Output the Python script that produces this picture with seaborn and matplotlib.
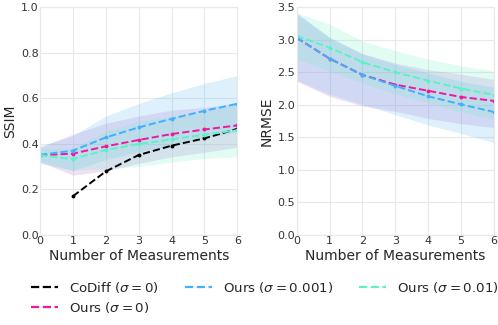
import matplotlib
matplotlib.use("Agg")
import matplotlib.pyplot as plt
from matplotlib.lines import Line2D
import seaborn as sns
import pandas as pd

# measurements on the x axis
n_meas = [0, 1, 2, 3, 4, 5, 6]

# SSIM
ssim_codiff = [None, 0.170, 0.279, 0.351, 0.392, 0.424, 0.466]
ssim_ours0 = [0.350, 0.357, 0.389, 0.417, 0.443, 0.463, 0.481]
ssim_ours0_lo = [0.320, 0.263, 0.281, 0.314, 0.343, 0.363, 0.385]
ssim_ours0_hi = [0.385, 0.443, 0.490, 0.522, 0.548, 0.560, 0.578]
ssim_ours1 = [0.352, 0.370, 0.428, 0.472, 0.510, 0.545, 0.576]
ssim_ours1_lo = [0.316, 0.282, 0.332, 0.365, 0.396, 0.425, 0.452]
ssim_ours1_hi = [0.390, 0.435, 0.522, 0.577, 0.624, 0.665, 0.700]
ssim_ours2 = [0.350, 0.333, 0.373, 0.399, 0.420, 0.440, 0.460]
ssim_ours2_lo = [0.322, 0.285, 0.290, 0.300, 0.320, 0.336, 0.343]
ssim_ours2_hi = [0.380, 0.380, 0.455, 0.498, 0.520, 0.544, 0.577]

# NRMSE
nrmse_ours0 = [3.030, 2.710, 2.460, 2.310, 2.215, 2.120, 2.060]
nrmse_ours0_lo = [2.360, 2.130, 1.980, 1.900, 1.790, 1.710, 1.650]
nrmse_ours0_hi = [3.400, 3.030, 2.790, 2.640, 2.540, 2.470, 2.390]
nrmse_ours1 = [3.030, 2.710, 2.460, 2.290, 2.130, 2.006, 1.890]
nrmse_ours1_lo = [2.380, 2.160, 2.006, 1.850, 1.690, 1.560, 1.420]
nrmse_ours1_hi = [3.410, 3.040, 2.780, 2.620, 2.490, 2.360, 2.270]
nrmse_ours2 = [3.055, 2.880, 2.655, 2.500, 2.370, 2.250, 2.150]
nrmse_ours2_lo = [2.700, 2.520, 2.330, 2.170, 2.030, 1.890, 1.780]
nrmse_ours2_hi = [3.410, 3.240, 2.980, 2.830, 2.700, 2.600, 2.520]

labels = [r"CoDiff ($\sigma = 0$)", r"Ours ($\sigma = 0$)",
          r"Ours ($\sigma = 0.001$)", r"Ours ($\sigma = 0.01$)"]
line_colors = ["black", "#f0189a", "#40b0ff", "#5cf2c6"]
band_colors = [None, "#c084d8", "#58b6f2", "#6cf0c4"]
band_alpha = [0, 0.24, 0.2, 0.2]

sns.set_theme(style="whitegrid")
plt.rcParams["font.family"] = ["DejaVu Sans"]
plt.rcParams["mathtext.fontset"] = "dejavusans"

fig, axes = plt.subplots(1, 2, figsize=(4.98, 3.25), dpi=100)
fig.subplots_adjust(left=0.0803, right=0.992, top=0.978, bottom=0.277, wspace=0.30)


def draw(ax, series, ylabel, ylim, yticks):
    for (mean, lo, hi), lab, lc, bc, ba in zip(series, labels, line_colors, band_colors, band_alpha):
        if lo is not None:
            ax.fill_between(n_meas, lo, hi, color=bc, alpha=ba, linewidth=0)
    for (mean, lo, hi), lab, lc in zip(series, labels, line_colors):
        if mean is None:
            continue
        df = pd.DataFrame({"x": n_meas, "y": mean}).dropna()
        sns.lineplot(data=df, x="x", y="y", ax=ax, color=lc, linestyle="--",
                     linewidth=1.4, marker="o", markersize=2.8, markeredgewidth=0)
    ax.set_xlim(0, 6)
    ax.set_ylim(*ylim)
    ax.set_xticks(n_meas)
    ax.set_yticks(yticks)
    ax.set_xlabel("Number of Measurements", fontsize=10, labelpad=2)
    ax.set_ylabel(ylabel, fontsize=10, labelpad=3)
    ax.tick_params(labelsize=8, pad=1, length=0, colors="#333333")
    ax.grid(color="#e8e8e8", linewidth=0.8)
    for s in ax.spines.values():
        s.set_color("#e8e8e8")
        s.set_linewidth(0.8)


draw(axes[0],
     [(ssim_codiff, None, None),
      (ssim_ours0, ssim_ours0_lo, ssim_ours0_hi),
      (ssim_ours1, ssim_ours1_lo, ssim_ours1_hi),
      (ssim_ours2, ssim_ours2_lo, ssim_ours2_hi)],
     "SSIM", (0, 1.0), [0.0, 0.2, 0.4, 0.6, 0.8, 1.0])

draw(axes[1],
     [(None, None, None),
      (nrmse_ours0, nrmse_ours0_lo, nrmse_ours0_hi),
      (nrmse_ours1, nrmse_ours1_lo, nrmse_ours1_hi),
      (nrmse_ours2, nrmse_ours2_lo, nrmse_ours2_hi)],
     "NRMSE", (0, 3.5), [0.0, 0.5, 1.0, 1.5, 2.0, 2.5, 3.0, 3.5])

handles = [Line2D([0], [0], color=c, linestyle="--", linewidth=1.6) for c in line_colors]
fig.legend(handles, labels, loc="center", bbox_to_anchor=(0.532, 0.085), ncol=3,
           frameon=False, fontsize=9.6, handlelength=2.0, columnspacing=2.0,
           labelspacing=0.4, handletextpad=0.8)

fig.savefig("out.png", dpi=100)
